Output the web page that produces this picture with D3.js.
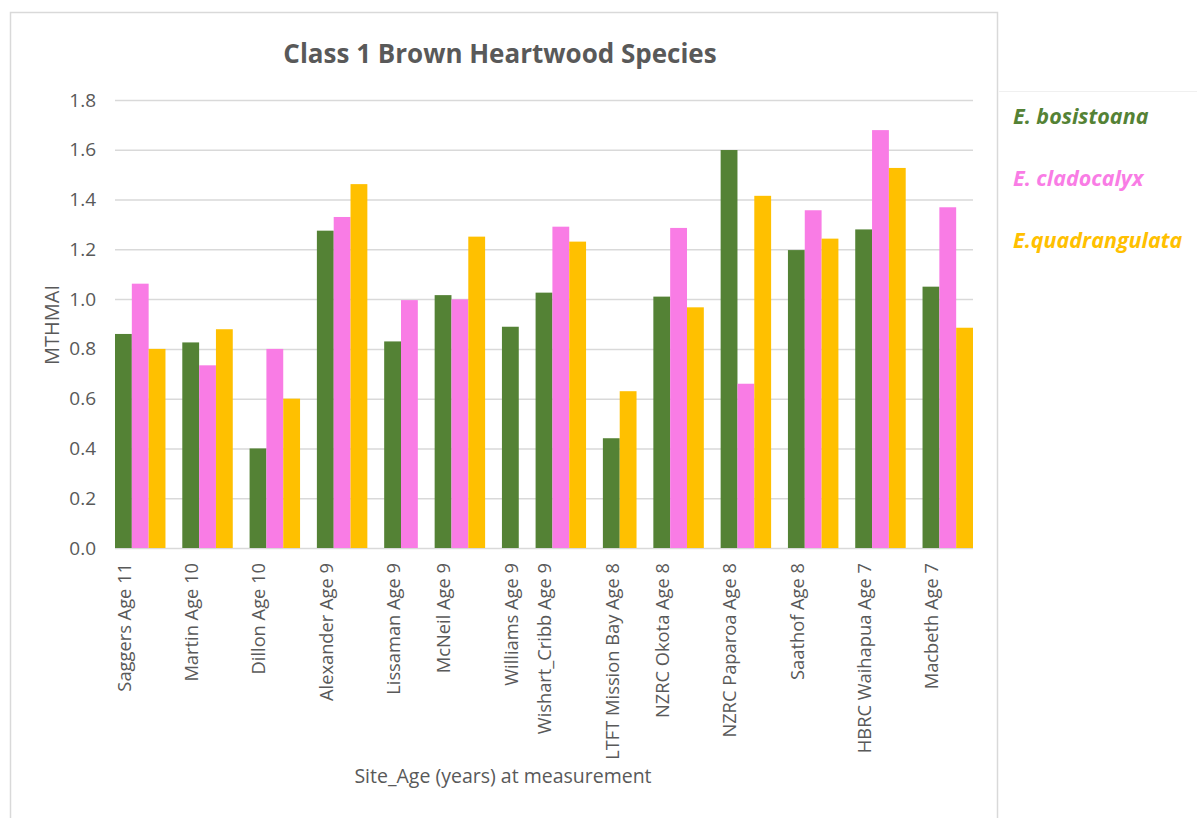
<!DOCTYPE html>
<html>
<head>
<meta charset="utf-8">
<script src="https://d3js.org/d3.v7.min.js"></script>
<style>
  body { margin: 0; background: #ffffff; }
  svg text { font-family: "Open Sans", "Noto Sans", sans-serif; }
</style>
</head>
<body>
<script>

// sites (category axis)
var sites = ["Saggers Age 11", "Martin Age 10", "Dillon Age 10", "Alexander Age 9",
  "Lissaman Age 9", "McNeil Age 9", "Williams Age 9", "Wishart_Cribb Age 9",
  "LTFT Mission Bay Age 8", "NZRC Okota Age 8", "NZRC Paparoa Age 8", "Saathof Age 8",
  "HBRC Waihapua Age 7", "Macbeth Age 7"];

// MTHMAI per species, null = not measured at that site
var bosistoana = [0.86, 0.826, 0.40, 1.275, 0.83, 1.016, 0.889, 1.026, 0.441, 1.01, 1.599, 1.197, 1.28, 1.05];
var cladocalyx = [1.062, 0.734, 0.80, 1.33, 0.996, 0.999, null, 1.291, null, 1.286, 0.66, 1.357, 1.679, 1.369];
var quadrangulata = [0.80, 0.879, 0.60, 1.462, null, 1.251, null, 1.231, 0.63, 0.967, 1.415, 1.243, 1.527, 0.885];

var species_names = ["E. bosistoana", "E. cladocalyx", "E.quadrangulata"];
var y_ticks = [0, 0.2, 0.4, 0.6, 0.8, 1.0, 1.2, 1.4, 1.6, 1.8];

var colors = ["#548235", "#f97ce5", "#ffc000"];

var svg_width = 1197;
var svg_height = 818;

var svg = d3.select("body")
    .append("svg")
    .attr("width", svg_width)
    .attr("height", svg_height);

// chart frame
svg.append("rect")
    .attr("x", 10.5)
    .attr("y", 12.5)
    .attr("width", 987)
    .attr("height", 830)
    .attr("fill", "none")
    .attr("stroke", "#d9d9d9")
    .attr("stroke-width", 1.5);

svg.append("line")
    .attr("x1", 999).attr("x2", svg_width)
    .attr("y1", 91.5).attr("y2", 91.5)
    .attr("stroke", "#f0f0f0");

// build bar list: missing values take no slot, one empty slot between sites
var series = [bosistoana, cladocalyx, quadrangulata];
var bars = [];
var group_start = [];
var slot = 0;
sites.forEach(function(site, i) {
  if (i > 0) slot += 1;
  group_start.push(slot);
  series.forEach(function(s, k) {
    if (s[i] != null) {
      bars.push({site: site, species: k, value: s[i], slot: slot});
      slot += 1;
    }
  });
});

var x_scale = d3.scaleLinear()
    .domain([0, slot])
    .range([115, 973]);

var y_scale = d3.scaleLinear()
    .domain([0, 1.8])
    .range([548, 100]);

// gridlines
var y_axis = d3.axisLeft(y_scale)
    .tickValues(y_ticks)
    .tickSize(-(973 - 115))
    .tickPadding(19)
    .tickFormat(d3.format(".1f"));

var gy = svg.append("g")
    .attr("transform", "translate(115,0)")
    .call(y_axis);

gy.select(".domain").remove();
gy.selectAll(".tick line")
    .attr("stroke", "#d9d9d9")
    .attr("stroke-width", 1.5);
gy.selectAll(".tick text")
    .attr("fill", "#595959")
    .style("font-size", "19px");

// bars
var bar_w = x_scale(1) - x_scale(0);

svg.selectAll("rect.bar")
    .data(bars)
    .enter()
    .append("rect")
    .attr("class", "bar")
    .attr("x", function(d) { return x_scale(d.slot); })
    .attr("width", bar_w)
    .attr("y", function(d) { return y_scale(d.value); })
    .attr("height", function(d) { return y_scale(0) - y_scale(d.value); })
    .attr("fill", function(d) { return colors[d.species]; });

// category labels, rotated
svg.selectAll("text.site")
    .data(sites)
    .enter()
    .append("text")
    .attr("class", "site")
    .attr("transform", function(d, i) {
      return "translate(" + (x_scale(group_start[i] + 0.5) + 1) + ",563) rotate(-90)";
    })
    .attr("dy", "0.35em")
    .attr("text-anchor", "end")
    .attr("fill", "#595959")
    .style("font-size", "18.3px")
    .text(function(d) { return d; });

// title
svg.append("text")
    .attr("x", 500)
    .attr("y", 63)
    .attr("text-anchor", "middle")
    .attr("fill", "#595959")
    .style("font-size", "26px")
    .style("font-weight", "bold")
    .text("Class 1 Brown Heartwood Species");

// axis titles
svg.append("text")
    .attr("transform", "translate(52,325) rotate(-90)")
    .attr("dy", "0.35em")
    .attr("text-anchor", "middle")
    .attr("fill", "#595959")
    .style("font-size", "20px")
    .text("MTHMAI");

svg.append("text")
    .attr("x", 503)
    .attr("y", 783)
    .attr("text-anchor", "middle")
    .attr("fill", "#595959")
    .style("font-size", "19.5px")
    .text("Site_Age (years) at measurement");

// legend, coloured text only
svg.selectAll("text.legend")
    .data(species_names)
    .enter()
    .append("text")
    .attr("class", "legend")
    .attr("x", 1013)
    .attr("y", function(d, i) { return 124 + i * 62; })
    .attr("fill", function(d, i) { return colors[i]; })
    .style("font-size", "21.5px")
    .style("font-weight", "bold")
    .style("font-style", "italic")
    .text(function(d) { return d; });

</script>
</body>
</html>
